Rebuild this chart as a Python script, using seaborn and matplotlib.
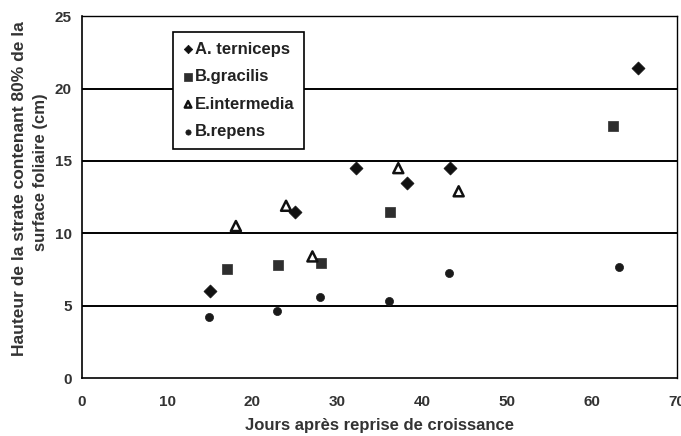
import matplotlib
matplotlib.use("Agg")
import matplotlib.pyplot as plt
import seaborn as sns
import pandas as pd

# Days after regrowth vs height of the layer holding 80% of leaf area
terniceps_x = [15.0, 25.0, 32.2, 38.2, 43.3, 65.4]
terniceps_y = [6.0, 11.5, 14.5, 13.5, 14.5, 21.4]

gracilis_x = [17.0, 23.0, 28.1, 36.2, 62.4]
gracilis_y = [7.5, 7.8, 7.95, 11.5, 17.4]

intermedia_x = [18.1, 24.0, 27.1, 37.2, 44.3]
intermedia_y = [10.5, 11.9, 8.4, 14.5, 12.9]

repens_x = [14.9, 22.9, 28.0, 36.1, 43.2, 63.1]
repens_y = [4.2, 4.6, 5.6, 5.35, 7.25, 7.7]

species = ["A. terniceps", "B.gracilis", "E.intermedia", "B.repens"]
x_ticks = [0, 10, 20, 30, 40, 50, 60, 70]
y_ticks = [0, 5, 10, 15, 20, 25]
y_title = ["Hauteur de la strate contenant 80% de la", "surface foliaire (cm)"]

frames = []
for name, xs, ys in zip(species,
                        [terniceps_x, gracilis_x, intermedia_x, repens_x],
                        [terniceps_y, gracilis_y, intermedia_y, repens_y]):
    frames.append(pd.DataFrame({"jours": xs, "hauteur": ys, "espece": name}))
df = pd.concat(frames, ignore_index=True)

sns.set_style("white")
plt.rcParams["font.family"] = ["Liberation Sans", "DejaVu Sans"]
plt.rcParams["font.weight"] = "bold"

W, H = 681, 436
fig = plt.figure(figsize=(W / 100, H / 100), dpi=100)
ax = fig.add_axes([0.1204, 0.133, 0.874, 0.830])

styles = {
    "A. terniceps": dict(marker="D", s=44, color="#111111", edgecolor="#111111", linewidth=0.5),
    "B.gracilis": dict(marker="s", s=62, color="#2e2e2e", edgecolor="#2e2e2e", linewidth=0.5),
    "E.intermedia": dict(marker="^", s=52, facecolors="none", edgecolors="#111111", linewidth=1.8),
    "B.repens": dict(marker="o", s=34, color="#1a1a1a", edgecolor="#1a1a1a", linewidth=0.5),
}

for name in species:
    sub = df[df["espece"] == name]
    sns.scatterplot(data=sub, x="jours", y="hauteur", label=name, ax=ax,
                    zorder=3, **styles[name])

# horizontal gridlines
for yv in y_ticks[1:-1]:
    ax.axhline(yv, color="black", linewidth=1.4, zorder=1)

ax.set_xlim(0, 70)
ax.set_ylim(0, 25)
ax.set_xticks(x_ticks)
ax.set_yticks(y_ticks)
ax.tick_params(axis="x", direction="out", length=5, width=1, colors="black",
               labelcolor="#333333", labelsize=11, pad=7)
ax.tick_params(axis="y", direction="inout", length=7, width=1, colors="black",
               labelcolor="#333333", labelsize=11, pad=4)
for lab in ax.get_xticklabels() + ax.get_yticklabels():
    lab.set_fontweight("bold")

for side in ["left", "bottom"]:
    ax.spines[side].set_color("black")
    ax.spines[side].set_linewidth(1.2)
for side in ["top", "right"]:
    ax.spines[side].set_color("black")
    ax.spines[side].set_linewidth(1.0)
    ax.spines[side].set_linestyle((0, (1.5, 1)))

ax.set_xlabel("Jours après reprise de croissance", fontsize=12,
              fontweight="bold", color="#333333", labelpad=7)
ax.set_ylabel("")

# two-line vertical axis title, second line sits a little higher
fig.text(20 / W, 1 - 189 / H, y_title[0], rotation=90, ha="center", va="center",
         fontsize=12.5, fontweight="bold", color="#333333")
fig.text(41 / W, 1 - 172 / H, y_title[1], rotation=90, ha="center", va="center",
         fontsize=12.0, fontweight="bold", color="#333333")

leg = ax.legend(loc="upper left", bbox_to_anchor=(0.153, 0.957),
                frameon=True, fancybox=False, framealpha=1, edgecolor="black",
                markerscale=0.65, handletextpad=0.1, handlelength=0.6,
                borderpad=0.6, labelspacing=0.75, borderaxespad=0,
                prop={"weight": "bold", "size": 12})
leg.get_frame().set_linewidth(1.2)
for t in leg.get_texts():
    t.set_color("#222222")

fig.savefig("out.png", dpi=100)
